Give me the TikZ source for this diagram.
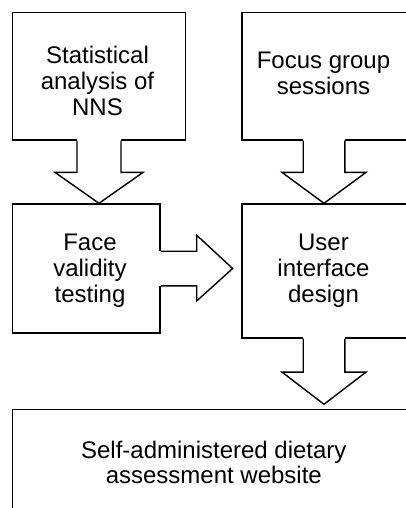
\documentclass[tikz,border=0pt]{standalone}
\usepackage{fontspec}
\setmainfont{Liberation Sans}
\usetikzlibrary{calc}
\begin{document}
\begin{tikzpicture}[x=1pt,y=-1pt,
  box/.style={draw,line width=1.4pt,rectangle,inner sep=0pt},
  lbl/.style={align=center,inner sep=0pt,anchor=base,font=\fontsize{24}{26}\selectfont},
  afill/.style={fill=white},
  aline/.style={draw,line width=1.4pt,line join=miter}]
\useasboundingbox (0,0) rectangle (406,508);
\clip (0,0) rectangle (406,508);
% boxes
\node[box,minimum width=173pt,minimum height=127.5pt] (b1) at (99,76.25) {};
\node[box,minimum width=166pt,minimum height=127.5pt] (b2) at (325,76.25) {};
\node[box,minimum width=147.5pt,minimum height=129pt] (b3) at (86.25,268.5) {};
\node[box,minimum width=166pt,minimum height=134pt] (b4) at (325,271) {};
\node[box,minimum width=403.5pt,minimum height=110pt] (b5) at (214.25,464.3) {};
% labels (anchor = baseline of last line)
\node[lbl] (l1) at (97.5,116) {Statistical\\analysis of\\NNS};
\node[lbl] (l2) at (323.5,94.3) {Focus group\\sessions};
\node[lbl] (l3) at (90,302.3) {Face\\validity\\testing};
\node[lbl] (l4) at (323.5,302) {User\\interface\\design};
\node[lbl,font=\fontsize{24}{25}\selectfont] (l5) at (213.8,483.3) {Self-administered dietary\\assessment website};
% arrow b1 -> b3
\coordinate (s1) at (b1.south);
\coordinate (t1) at (s1 |- b3.north);
\fill[afill] ($(s1)+(-22,-1.6)$) -- ($(s1)+(-22,31.7)$) -- ($(s1)+(-44,31.7)$) -- (t1) -- ($(s1)+(44,31.7)$) -- ($(s1)+(22,31.7)$) -- ($(s1)+(22,-1.6)$) -- cycle;
\draw[aline] ($(s1)+(-22,0)$) -- ($(s1)+(-22,31.7)$) -- ($(s1)+(-44,31.7)$) -- (t1) -- ($(s1)+(44,31.7)$) -- ($(s1)+(22,31.7)$) -- ($(s1)+(22,0)$);
% arrow b2 -> b4
\coordinate (s2) at ($(b2.south)+(-1,0)$);
\coordinate (t2) at (s2 |- b4.north);
\fill[afill] ($(s2)+(-20.8,-1.6)$) -- ($(s2)+(-20.8,31.7)$) -- ($(s2)+(-42,31.7)$) -- (t2) -- ($(s2)+(42,31.7)$) -- ($(s2)+(20.8,31.7)$) -- ($(s2)+(20.8,-1.6)$) -- cycle;
\draw[aline] ($(s2)+(-20.8,0)$) -- ($(s2)+(-20.8,31.7)$) -- ($(s2)+(-42,31.7)$) -- (t2) -- ($(s2)+(42,31.7)$) -- ($(s2)+(20.8,31.7)$) -- ($(s2)+(20.8,0)$);
% arrow b3 -> b4
\coordinate (s3) at (b3.east);
\coordinate (t3) at ($(b4.west |- s3)+(-8.7,0)$);
\fill[afill] ($(s3)+(-1.6,-17.3)$) -- ($(s3)+(36,-17.3)$) -- ($(s3)+(36,-33.3)$) -- (t3) -- ($(s3)+(36,32.5)$) -- ($(s3)+(36,17.3)$) -- ($(s3)+(-1.6,17.3)$) -- cycle;
\draw[aline] ($(s3)+(0,-17.3)$) -- ($(s3)+(36,-17.3)$) -- ($(s3)+(36,-33.3)$) -- (t3) -- ($(s3)+(36,32.5)$) -- ($(s3)+(36,17.3)$) -- ($(s3)+(0,17.3)$);
% arrow b4 -> b5
\coordinate (s4) at ($(b4.south)+(-1,0)$);
\coordinate (t4) at ($(s4 |- b5.north)+(0,-4.3)$);
\fill[afill] ($(s4)+(-20.8,-1.6)$) -- ($(s4)+(-20.8,33.4)$) -- ($(s4)+(-42,33.4)$) -- (t4) -- ($(s4)+(42,33.4)$) -- ($(s4)+(20.8,33.4)$) -- ($(s4)+(20.8,-1.6)$) -- cycle;
\draw[aline] ($(s4)+(-20.8,0)$) -- ($(s4)+(-20.8,33.4)$) -- ($(s4)+(-42,33.4)$) -- (t4) -- ($(s4)+(42,33.4)$) -- ($(s4)+(20.8,33.4)$) -- ($(s4)+(20.8,0)$);
\end{tikzpicture}
\end{document}
